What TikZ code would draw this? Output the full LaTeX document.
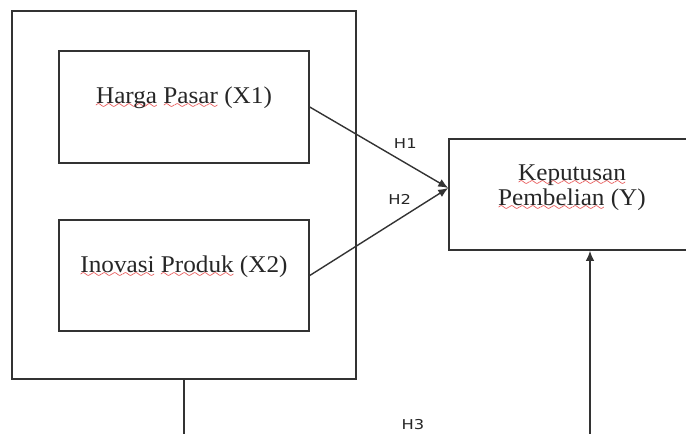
\documentclass[tikz,border=0pt]{standalone}
\usepackage{fontspec}
\setmainfont[FakeStretch=1.05]{Liberation Serif}
\newfontfamily\hfont[FakeStretch=1.2]{DejaVu Sans}
\usetikzlibrary{arrows.meta, positioning}
\definecolor{EdgeGray}{HTML}{333333}
\definecolor{WaveRed}{HTML}{E02020}
\font\wavefont=lasy6
\newcommand{\spellwave}[1]{\setbox0\hbox{#1}\hbox{\rlap{\lower2.5pt\hbox to\wd0{\color{WaveRed}\xleaders\hbox{\wavefont\char58}\hfil}}\box0}}
\tikzset{
  framebox/.style={draw=EdgeGray, line width=0.75pt, fill=none, inner sep=0pt},
  boxtext/.style={align=center, inner sep=0pt, font=\fontsize{12}{12.5}\selectfont, text=black!85},
  edge/.style={draw=EdgeGray, line width=0.7pt},
  harrow/.style={-{Latex[length=5pt, width=4.2pt]}, draw=EdgeGray, line width=0.7pt},
  hlabel/.style={font=\hfont\fontsize{6.8}{7}\selectfont, text=black!85}
}

\begin{document}
\begin{tikzpicture}[x=1pt, y=1pt]
\useasboundingbox (0,0) rectangle (343,-217);
\clip (0,0) rectangle (343,-217);
\node[framebox, minimum width=172pt, minimum height=184pt] (group) at (92,-97.5) {};
\node[framebox, minimum width=125pt, minimum height=56pt] (harga) at (92,-53.5) {};
\node[framebox, minimum width=125pt, minimum height=55.5pt] (inovasi) at (92,-137.75) {};
\node[framebox, minimum width=125pt, minimum height=55.5pt] (keputusan) at (287,-97.25) {};
\node[boxtext] (hargatext) at (92,-49) {\spellwave{Harga} \spellwave{Pasar} (X1)};
\node[boxtext] (inovasitext) at (92,-133.5) {\spellwave{Inovasi} \spellwave{Produk} (X2)};
\node[boxtext] (keputusantext) at (286,-93.75) {\spellwave{Keputusan}\\\spellwave{Pembelian} (Y)};
\coordinate (tip) at ([yshift=3.25pt]keputusan.west);
\draw[harrow] (harga.east) -- node[hlabel, pos=0.69, above=3.5pt] (h1) {H1} (tip);
\draw[harrow] (inovasi.east) -- node[hlabel, pos=0.65, above=3.5pt] (h2) {H2} (tip);
\coordinate (groupfoot) at (92,-220);
\coordinate (keputusanfoot) at (295,-220);
\draw[edge] (group.south) -- (groupfoot);
\draw[harrow] (keputusanfoot) -- (keputusanfoot |- keputusan.south);
\node[hlabel] (h3) at (206.5,-212.5) {H3};
\end{tikzpicture}
\end{document}
